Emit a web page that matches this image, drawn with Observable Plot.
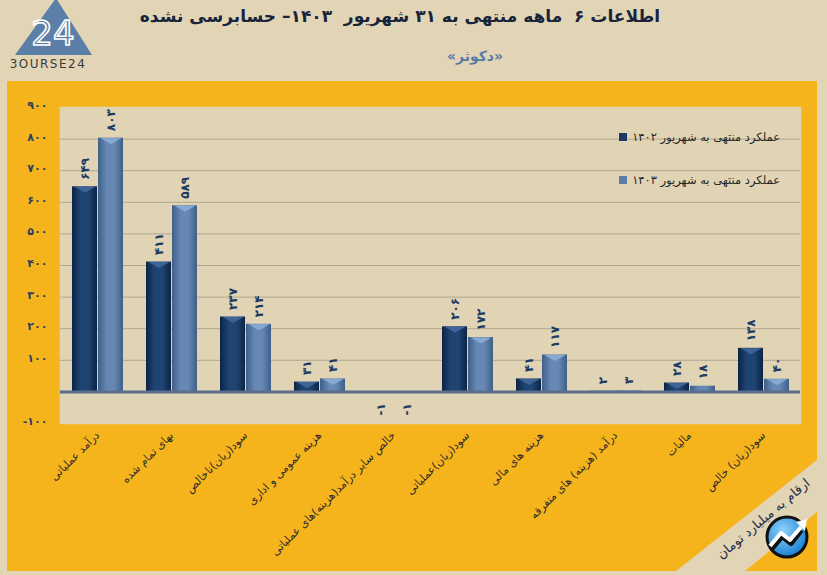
<!DOCTYPE html>
<html>
<head>
<meta charset="utf-8">
<script src="https://cdn.jsdelivr.net/npm/d3@7"></script>
<script src="https://cdn.jsdelivr.net/npm/@observablehq/plot@0.6"></script>
<style>
  html, body { margin: 0; padding: 0; }
  body { width: 827px; height: 575px; background: #e2d5b6; position: relative; overflow: hidden; font-family: "DejaVu Sans", sans-serif; }
  #title { position: absolute; left: 100px; width: 600px; top: 6px; text-align: center; direction: rtl; font-size: 17px; font-weight: bold; color: #18243c; white-space: pre; }
  #subtitle { position: absolute; left: 400px; width: 150px; top: 48px; text-align: center; direction: rtl; font-size: 14px; font-weight: bold; color: #5a7ba6; }
  #panel { position: absolute; left: 7px; top: 81px; width: 810px; height: 490px; background: #f6b41c; }
  #legend { position: absolute; left: 560px; top: 128px; width: 220px; font-size: 11.5px; color: #262626; }
  .li { display: flex; justify-content: flex-end; align-items: center; height: 18px; }
  .li + .li { margin-top: 25px; }
  .sw { width: 8px; height: 8px; margin-right: 5px; }
  .lt { direction: rtl; }
  #logo, #deco { position: absolute; left: 0; top: 0; }
</style>
</head>
<body>
<svg id="logo" width="110" height="80">
  <polygon points="15,55 56,-2 92,55" fill="#5b7fa6"/>
  <text x="53" y="45" text-anchor="middle" font-family="DejaVu Sans" font-size="34" fill="none" stroke="#ffffff" stroke-width="1.6">24</text>
  <text x="48" y="68" text-anchor="middle" font-family="DejaVu Sans" font-size="12" letter-spacing="1.5" fill="#3a3a3a">3OURSE24</text>
</svg>
<div id="title">اطلاعات ۶  ماهه منتهی به ۳۱ شهریور  ۱۴۰۳– حسابرسی نشده</div>
<div id="subtitle">«دکوثر»</div>
<div id="panel"></div>
<div id="legend"></div>
<svg id="deco" width="827" height="575" style="pointer-events:none">
  <defs>
    <radialGradient id="icg" cx="0.4" cy="0.35" r="0.7">
      <stop offset="0" stop-color="#8fd3fb"/>
      <stop offset="1" stop-color="#127bd0"/>
    </radialGradient>
  </defs>
  <polygon points="817,460 817,512 745,571 676,571" fill="#e2d5b6"/>
  <text x="766" y="522" transform="rotate(-40 766 522)" text-anchor="middle" font-family="DejaVu Sans" font-size="13" fill="#1c2b45" direction="rtl">ارقام به میلیارد تومان</text>
  <circle cx="787" cy="537" r="20" fill="url(#icg)" stroke="#111" stroke-width="3"/>
  <polyline points="771,549 782,536 791,543 801,530" fill="none" stroke="#111" stroke-width="6" stroke-linejoin="round"/>
  <polyline points="770,546 781,533 790,540 801,527" fill="none" stroke="#fff" stroke-width="4" stroke-linejoin="round"/>
  <polygon points="796,522 807,519 805,531" fill="#fff"/>
</svg>
<script>
const categories = [
  "درآمد عملیاتی",
  "بهای تمام شده",
  "سود(زیان)ناخالص",
  "هزینه عمومی و اداری",
  "خالص سایر درآمد(هزینه)های عملیاتی",
  "سود(زیان)عملیاتی",
  "هزینه های مالی",
  "درآمد (هزینه) های متفرقه",
  "مالیات",
  "سود(زیان) خالص"
];
const seriesKeys = ["1402", "1403"];
const seriesNames = ["عملکرد منتهی به شهریور ۱۴۰۲", "عملکرد منتهی به شهریور ۱۴۰۳"];
const values1402 = [649, 411, 237, 31, -1, 206, 41, 2, 28, 138];
const values1403 = [803, 589, 214, 41, -1, 172, 117, 3, 18, 40];
const yTicks = [-100, 100, 200, 300, 400, 500, 600, 700, 800, 900];
const gridTicks = [100, 200, 300, 400, 500, 600, 700, 800];

const colors = {"1402": "#1b3b66", "1403": "#5a7ca6"};
const chevron = {"1402": "#3d6496", "1403": "#86a9d2"};
const plotBg = "#e1d4b4";

const fa = n => String(n).replace(/\d/g, d => "۰۱۲۳۴۵۶۷۸۹"[d]);

const rows = categories.flatMap((c, i) => [
  {cat: c, s: "1402", v: values1402[i]},
  {cat: c, s: "1403", v: values1403[i]}
]);

const chevSymbol = {draw(ctx) { ctx.moveTo(-10.5, 0); ctx.lineTo(10.5, 0); ctx.lineTo(0, 6); ctx.closePath(); }};

const plot = Plot.plot({
  width: 810,
  height: 489,
  marginTop: 26,
  marginLeft: 53,
  marginRight: 17,
  marginBottom: 147,
  style: {background: "transparent", fontFamily: "DejaVu Sans", overflow: "visible"},
  fx: {domain: categories, padding: 0, axis: null, label: null},
  x: {domain: seriesKeys, paddingInner: 0.04, paddingOuter: 0.44, axis: null, label: null},
  y: {domain: [-100, 900], axis: null, label: null},
  marks: [
    Plot.frame({fill: plotBg, stroke: plotBg, strokeWidth: 1.5}),
    Plot.ruleY(gridTicks, {stroke: "#b0a792", strokeWidth: 1}),
    Plot.barY(rows.filter(d => d.s === "1402"), {fx: "cat", x: "s", y: "v", fill: colors["1402"]}),
    Plot.barY(rows.filter(d => d.s === "1403"), {fx: "cat", x: "s", y: "v", fill: colors["1403"]}),
    Plot.dot(rows.filter(d => d.s === "1402" && d.v >= 20), {fx: "cat", x: "s", y: "v", symbol: chevSymbol, r: 5, fill: chevron["1402"], stroke: "none"}),
    Plot.dot(rows.filter(d => d.s === "1403" && d.v >= 20), {fx: "cat", x: "s", y: "v", symbol: chevSymbol, r: 5, fill: chevron["1403"], stroke: "none"}),
    Plot.ruleY([0], {stroke: "#5a6e8e", strokeWidth: 3}),
    Plot.text(rows.filter(d => d.v >= 0), {fx: "cat", x: "s", y: "v", text: d => fa(d.v), rotate: -90, textAnchor: "start", dy: -7, fontSize: 12, fontWeight: "bold", fill: "#1d3a62"}),
    Plot.text(rows.filter(d => d.v < 0), {fx: "cat", x: "s", y: "v", text: d => fa(d.v), rotate: -90, textAnchor: "end", dy: 11, fontSize: 12, fontWeight: "bold", fill: "#1d3a62"}),
    Plot.axisY(yTicks, {tickSize: 0, tickPadding: 13, tickFormat: fa, fontSize: 11, fontWeight: "bold", fill: "#2b3f5f", dy: -2, label: null}),
    Plot.axisFx({anchor: "bottom", tickRotate: -45, tickSize: 0, tickPadding: 10, fontSize: 11, fill: "#2a2a2a", label: null})
  ]
});

// bar gradients (cylindrical look)
const svg = d3.select(plot);
const defs = svg.insert("defs", ":first-child");
function grad(id, edge, mid) {
  const g = defs.append("linearGradient").attr("id", id).attr("x1", 0).attr("x2", 1).attr("y1", 0).attr("y2", 0);
  g.append("stop").attr("offset", 0).attr("stop-color", edge);
  g.append("stop").attr("offset", 0.35).attr("stop-color", mid);
  g.append("stop").attr("offset", 0.65).attr("stop-color", mid);
  g.append("stop").attr("offset", 1).attr("stop-color", edge);
}
grad("g1402", "#0c2444", "#1f4472");
grad("g1403", "#3f5f88", "#6688b2");
svg.selectAll(`g[fill="${colors["1402"]}"]`).attr("fill", "url(#g1402)");
svg.selectAll(`g[fill="${colors["1403"]}"]`).attr("fill", "url(#g1403)");

document.getElementById("panel").appendChild(plot);

// legend
const legend = d3.select("#legend");
seriesKeys.forEach((k, i) => {
  const li = legend.append("div").attr("class", "li");
  li.append("div").attr("class", "sw").style("background", colors[k]);
  li.append("div").attr("class", "lt").text(seriesNames[i]);
});
</script>
</body>
</html>
